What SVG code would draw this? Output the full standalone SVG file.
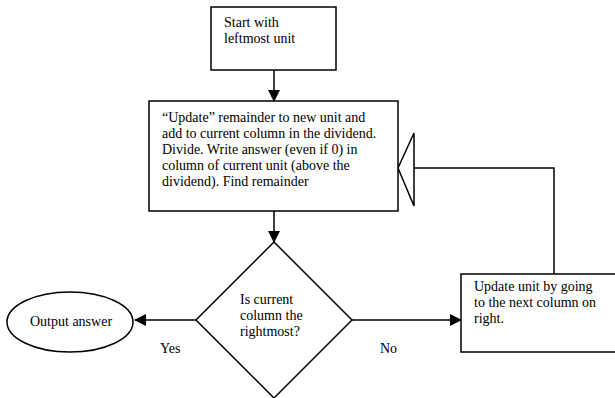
<svg xmlns="http://www.w3.org/2000/svg" width="615" height="398" viewBox="0 0 615 398">
<style>
.s{fill:#fff;stroke:#000;stroke-width:1.5}
.t{font-family:"Liberation Serif","Times New Roman",serif;font-size:14px;fill:#000}
.c{fill:none;stroke:#000;stroke-width:1.5}
</style>
<defs>
<marker id="ah" markerWidth="12" markerHeight="12" refX="11" refY="6" orient="auto" markerUnits="userSpaceOnUse">
<path d="M0,0 L12,6 L0,12 Z" fill="#000"/>
</marker>
</defs>
<rect width="615" height="398" fill="#fff"/>
<g id="connectors">
<line class="c" x1="274" y1="70" x2="274" y2="101" marker-end="url(#ah)"/>
<line class="c" x1="274" y1="211" x2="274" y2="242" marker-end="url(#ah)"/>
<line class="c" x1="196" y1="320" x2="135" y2="320" marker-end="url(#ah)"/>
<line class="c" x1="352" y1="320" x2="461" y2="320" marker-end="url(#ah)"/>
<polyline class="c" points="554,274 554,168 414,168"/>
<polygon class="c" points="414,133 398,168 414,206"/>
</g>
<g id="start">
<rect class="s" x="211" y="7" width="125" height="63"/>
<text class="t" x="224" y="27">Start with</text>
<text class="t" x="224" y="43">leftmost unit</text>
</g>
<g id="process">
<rect class="s" x="149" y="101" width="249" height="110"/>
<text class="t" x="162" y="122">“Update” remainder to new unit and</text>
<text class="t" x="162" y="138">add to current column in the dividend.</text>
<text class="t" x="162" y="154">Divide. Write answer (even if 0) in</text>
<text class="t" x="162" y="170">column of current unit (above the</text>
<text class="t" x="162" y="186">dividend). Find remainder</text>
</g>
<g id="decision">
<polygon class="s" points="274,242 352,320 274,398 196,320"/>
<text class="t" x="240" y="304">Is current</text>
<text class="t" x="240" y="320">column the</text>
<text class="t" x="240" y="336">rightmost?</text>
</g>
<g id="output">
<ellipse class="s" cx="70" cy="322" rx="63" ry="30"/>
<text class="t" x="30" y="326">Output answer</text>
</g>
<g id="update">
<rect class="s" x="461" y="274" width="160" height="78"/>
<text class="t" x="474" y="291">Update unit by going</text>
<text class="t" x="474" y="307">to the next column on</text>
<text class="t" x="474" y="323">right.</text>
</g>
<g id="labels">
<text class="t" x="160" y="353">Yes</text>
<text class="t" x="380" y="353">No</text>
</g>
</svg>
